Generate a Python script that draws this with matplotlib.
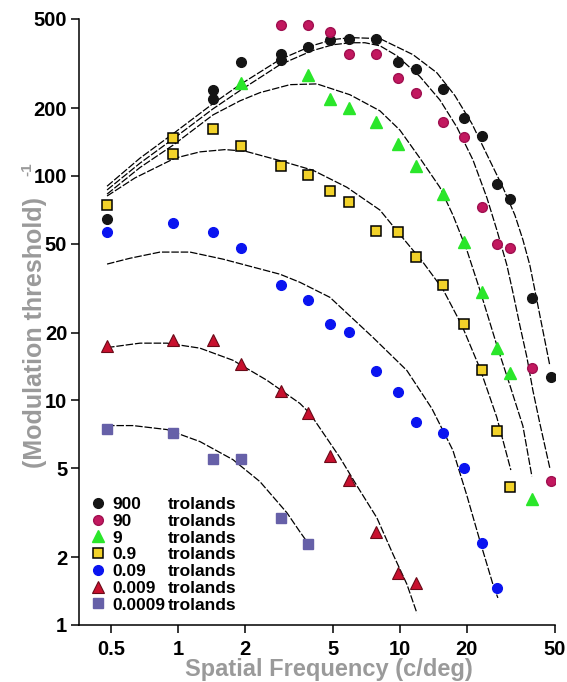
import matplotlib
matplotlib.use("Agg")
import matplotlib.pyplot as plt
from matplotlib.lines import Line2D

plt.rcParams['font.family'] = ['Liberation Sans', 'DejaVu Sans']

# retinal illuminance of each series (trolands)
levels = ['900', '90', '9', '0.9', '0.09', '0.009', '0.0009']

# measured points, spatial frequency (c/deg) and sensitivity
f_900 = [0.48, 1.44, 1.44, 1.93, 2.91, 2.91, 3.87, 4.86, 5.87, 7.84, 9.8, 11.8, 15.7, 19.4, 23.5, 27.5, 31.3, 39.5, 47.8]
s_900 = [64, 242, 221, 323, 350, 330, 377, 405, 409, 409, 323, 300, 245, 182, 151, 92, 79, 28.5, 12.7]

f_90 = [2.91, 3.87, 4.86, 5.87, 7.84, 9.8, 11.8, 15.7, 19.4, 23.5, 27.5, 31.3, 39.5, 47.8]
s_90 = [472, 472, 439, 350, 350, 274, 235, 174, 149, 73, 50, 48, 13.9, 4.4]

f_9 = [1.93, 3.87, 4.86, 5.87, 7.84, 9.8, 11.8, 15.7, 19.4, 23.5, 27.5, 31.3, 39.5]
s_9 = [260, 282, 221, 201, 174, 139, 111, 83, 51, 30.3, 17.2, 13.2, 3.65]

f_09 = [0.48, 0.95, 0.95, 1.44, 1.93, 2.91, 3.87, 4.86, 5.87, 7.84, 9.8, 11.8, 15.7, 19.4, 23.5, 27.5, 31.3]
s_09 = [74, 148, 125, 162, 136, 111, 101, 86, 76.6, 57, 56, 43.5, 32.6, 21.8, 13.6, 7.3, 4.1]

f_009 = [0.48, 0.95, 1.44, 1.93, 2.91, 3.87, 4.86, 5.87, 7.84, 9.8, 11.8, 15.7, 19.4, 23.5, 27.5]
s_009 = [56, 61.8, 56, 48, 32.6, 28, 21.8, 20.1, 13.5, 10.9, 8.06, 7.2, 5.0, 2.32, 1.46]

f_0009 = [0.48, 0.95, 1.44, 1.93, 2.91, 3.87, 4.86, 5.87, 7.84, 9.8, 11.8]
s_0009 = [17.4, 18.5, 18.5, 14.6, 11, 8.75, 5.63, 4.44, 2.6, 1.71, 1.54]

f_00009 = [0.48, 0.95, 1.44, 1.93, 2.91, 3.87]
s_00009 = [7.5, 7.2, 5.5, 5.5, 3.0, 2.3]

# fitted curves
fit_f_900 = [0.479, 0.674, 0.949, 1.438, 1.902, 2.881, 4.015, 4.991, 6.015, 8.126, 11.45, 14.68, 17.69, 21.11, 24.92, 29.11, 32.96, 35.83, 38.52, 40.57, 44.08, 47.39]
fit_s_900 = [90, 120, 154, 210, 255, 330, 380, 405, 413, 409, 347, 288, 228, 171, 122, 89, 67, 52, 40, 31, 20.5, 14.3]

fit_f_90 = [0.479, 0.674, 0.949, 1.438, 1.902, 2.881, 4.015, 4.991, 6.015, 6.956, 8.126, 9.694, 12.31, 15.14, 18.06, 21.33, 24.66, 27.35, 30.34, 32.28, 34.72, 37.34, 39.74, 42.73, 47.39]
fit_s_90 = [86.6, 114, 146, 199, 240, 313, 361, 384, 392, 392, 380, 343, 277, 218, 165, 118, 80, 57.4, 40.1, 30.4, 21.6, 15.6, 11.1, 7.9, 5.0]

fit_f_9 = [0.479, 0.674, 0.949, 1.438, 1.902, 2.341, 3.196, 4.227, 5.953, 8.126, 10.0, 12.31, 15.14, 17.33, 20.04, 22.94, 27.35, 31.30, 35.83, 39.33]
fit_s_9 = [83, 109, 137, 187, 216, 235, 255, 257, 230, 195, 160, 120, 89, 67, 46.7, 31, 17.6, 11.7, 7.7, 4.6]

fit_f_09 = [0.479, 0.640, 0.969, 1.256, 1.628, 2.004, 2.881, 4.057, 5.770, 8.126, 10.31, 12.70, 15.62, 19.02, 22.94, 27.35, 31.62]
fit_s_09 = [81.4, 98, 120, 128, 131, 129, 117, 106, 89, 70.5, 52.9, 41.3, 31.3, 21.6, 13.9, 8.4, 4.9]

fit_f_009 = [0.479, 0.608, 0.830, 1.133, 1.595, 2.110, 2.881, 3.544, 4.838, 7.557, 10.75, 13.94, 17.33, 20.04, 22.94, 26.24, 27.64]
fit_s_009 = [40.5, 43, 45.8, 45.8, 42.6, 39.6, 36.5, 33.6, 28.8, 19.1, 13.6, 9.2, 6.0, 3.77, 2.37, 1.52, 1.32]

fit_f_0009 = [0.479, 0.674, 0.892, 1.256, 1.769, 2.517, 2.881, 3.544, 3.932, 5.366, 6.402, 7.877, 9.301, 10.75, 11.93]
fit_s_0009 = [17.2, 18.0, 18.0, 17.1, 15.1, 12.3, 11.2, 9.7, 8.75, 5.57, 4.17, 3.0, 2.07, 1.52, 1.13]

fit_f_00009 = [0.479, 0.627, 0.892, 1.256, 1.769, 2.341, 3.097, 3.544, 3.812]
fit_s_00009 = [7.73, 7.73, 7.42, 6.56, 5.45, 4.35, 3.16, 2.6, 2.35]

xticks = [0.5, 1, 2, 5, 10, 20, 50]
yticks = [1, 2, 5, 10, 20, 50, 100, 200, 500]

fig = plt.figure(figsize=(5.67, 6.82), dpi=100)
ax = fig.add_axes([79/567, 57/682, 476/567, 606/682])
ax.set_xscale('log')
ax.set_yscale('log')

# fitted curves first, markers on top
fits = [(fit_f_900, fit_s_900), (fit_f_90, fit_s_90), (fit_f_9, fit_s_9), (fit_f_09, fit_s_09),
        (fit_f_009, fit_s_009), (fit_f_0009, fit_s_0009), (fit_f_00009, fit_s_00009)]
for ff, ss in fits:
    ax.plot(ff, ss, color='black', lw=0.9, ls=(0, (6, 1.5)), zorder=2)

h = []
h += ax.plot(f_900, s_900, 'o', ms=7, color='#151515', mec='#151515', zorder=3)
h += ax.plot(f_90, s_90, 'o', ms=7, color='#c2185f', mec='#a01050', zorder=3)
h += ax.plot(f_9, s_9, '^', ms=8, color='#2ae62a', mec='#2ae62a', zorder=3)
h += ax.plot(f_09, s_09, 's', ms=7, color='#f2d22a', mec='black', mew=1.1, zorder=3)
h += ax.plot(f_009, s_009, 'o', ms=7, color='#0a14f0', mec='#0a14f0', zorder=3)
h += ax.plot(f_0009, s_0009, '^', ms=8, color='#c8102e', mec='#6a0a18', mew=0.8, zorder=3)
h += ax.plot(f_00009, s_00009, 's', ms=7.5, color='#6660a8', mec='#6660a8', zorder=3)

ax.set_xlim(0.358, 50)
ax.set_ylim(1, 500)
ax.set_xticks(xticks)
ax.set_xticklabels([str(t) for t in xticks])
ax.set_yticks(yticks)
ax.set_yticklabels([str(t) for t in yticks])
ax.minorticks_off()
ax.tick_params(direction='out', length=5.5, width=1.1, labelsize=14.5, pad=3)
for lab in ax.get_xticklabels() + ax.get_yticklabels():
    lab.set_fontweight('bold')
ax.tick_params(axis='x', pad=5)

for side in ['top', 'right']:
    ax.spines[side].set_visible(False)
for side in ['left', 'bottom']:
    ax.spines[side].set_linewidth(1.1)

grey = '#9a9a9a'
ax.set_xlabel('Spatial Frequency (c/deg)', fontsize=17, fontweight='bold', color=grey)
ax.xaxis.set_label_coords(0.525, -0.074)
ax.xaxis.label.set_va('center')
ax.set_ylabel('(Modulation threshold)', fontsize=18, fontweight='bold', color=grey)
ax.yaxis.set_label_coords(-0.093, 0.483)
ax.yaxis.label.set_va('center')
# the exponent of the y label
ax.text(-0.109, 0.752, '-1', transform=ax.transAxes, rotation=90, fontsize=11,
        fontweight='bold', color=grey, ha='center', va='center')

# legend: numbers column, then "trolands" column
leg1 = ax.legend(h, levels, loc='upper left', bbox_to_anchor=(0.021, 0.2114), frameon=False,
                 borderpad=0, borderaxespad=0, handlelength=1.0, handletextpad=0.35,
                 labelspacing=0.092, prop={'size': 12.5, 'weight': 'bold'})
ax.add_artist(leg1)
blank = [Line2D([], [], linestyle='none') for _ in levels]
ax.legend(blank, ['trolands'] * len(levels), loc='upper left', bbox_to_anchor=(0.187, 0.2114),
          frameon=False, borderpad=0, borderaxespad=0, handlelength=0, handletextpad=0,
          labelspacing=0.092, prop={'size': 12.5, 'weight': 'bold'})

fig.savefig('out.png', dpi=100)
